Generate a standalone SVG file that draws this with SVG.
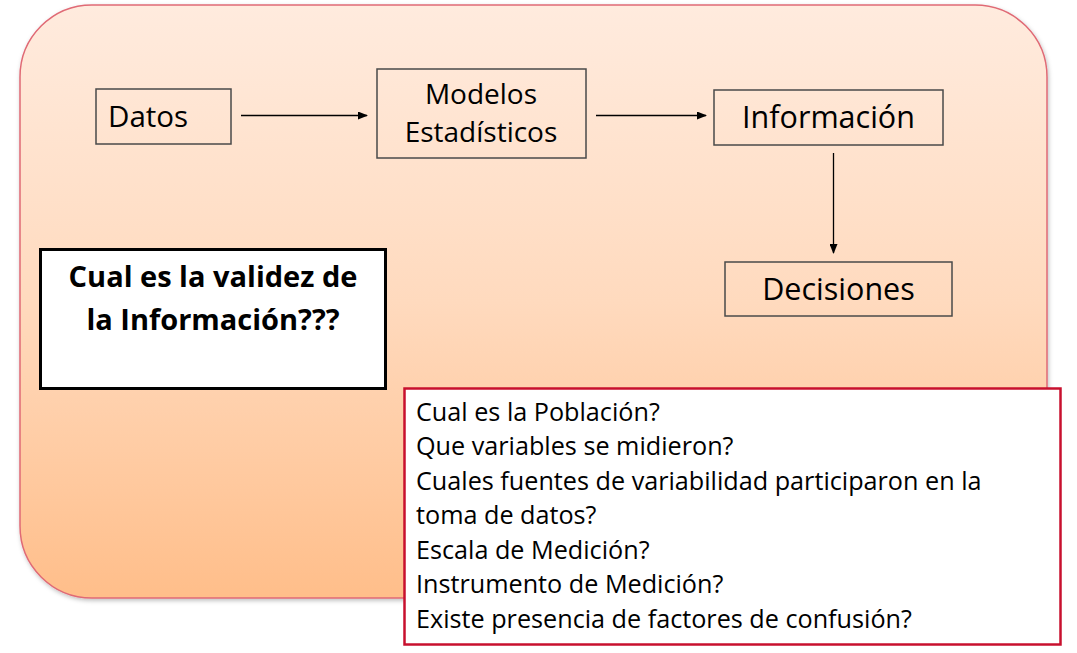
<svg xmlns="http://www.w3.org/2000/svg" width="1077" height="653" viewBox="0 0 1077 653">
<defs>
<linearGradient id="bg" x1="0" y1="0" x2="0" y2="1">
<stop offset="0" stop-color="#FFEBDE"/>
<stop offset="0.5" stop-color="#FFDABE"/>
<stop offset="1" stop-color="#FFBE8A"/>
</linearGradient>
<marker id="ah" markerWidth="10" markerHeight="8" refX="9" refY="4" orient="auto" markerUnits="userSpaceOnUse">
<path d="M0,0 L10,4 L0,8 Z" fill="#000"/>
</marker>
<filter id="sh" x="-5%" y="-5%" width="110%" height="110%">
<feDropShadow dx="1" dy="2" stdDeviation="2" flood-color="#000" flood-opacity="0.25"/>
</filter>
</defs>
<style>
.t{font-family:"Open Sans","Noto Sans","Liberation Sans",sans-serif;fill:#000}
.box{fill:none;stroke:#4a4a4a;stroke-width:1.5}
.conn{stroke:#000;stroke-width:1.3;fill:none;marker-end:url(#ah)}
</style>
<g id="background">
<rect x="20" y="5" width="1027" height="593" rx="72" ry="72" fill="url(#bg)" stroke="#E06A75" stroke-width="1.5" filter="url(#sh)"/>
</g>
<g id="datos">
<rect class="box" x="96" y="89" width="135" height="55"/>
<text class="t" x="108" y="127" font-size="29.5">Datos</text>
</g>
<g id="modelos">
<rect class="box" x="377" y="69" width="209" height="89"/>
<text class="t" x="481" y="104" font-size="28" text-anchor="middle">Modelos</text>
<text class="t" x="481" y="142" font-size="28" text-anchor="middle">Estadísticos</text>
</g>
<g id="informacion">
<rect class="box" x="714" y="90" width="229" height="55"/>
<text class="t" x="828.5" y="128" font-size="30.5" text-anchor="middle">Información</text>
</g>
<g id="decisiones">
<rect class="box" x="725" y="262" width="227" height="54"/>
<text class="t" x="838.5" y="300" font-size="30.5" text-anchor="middle">Decisiones</text>
</g>
<g id="validez">
<rect x="40.5" y="249.5" width="345" height="139" fill="#fff" stroke="#000" stroke-width="3"/>
<text class="t" x="213" y="287" font-size="29" font-weight="bold" text-anchor="middle">Cual es la validez de</text>
<text class="t" x="213" y="330" font-size="29" font-weight="bold" text-anchor="middle">la Información???</text>
</g>
<g id="preguntas">
<rect x="404.5" y="388.5" width="656" height="256" fill="#fff" stroke="#C8102E" stroke-width="2.5"/>
<g class="t" font-size="25.2">
<text x="416" y="421">Cual es la Población?</text>
<text x="416" y="455">Que variables se midieron?</text>
<text x="416" y="490">Cuales fuentes de variabilidad participaron en la</text>
<text x="416" y="524">toma de datos?</text>
<text x="416" y="559">Escala de Medición?</text>
<text x="416" y="593">Instrumento de Medición?</text>
<text x="416" y="628">Existe presencia de factores de confusión?</text>
</g>
</g>
<g id="connectors">
<line class="conn" x1="241" y1="115.5" x2="367" y2="115.5"/>
<line class="conn" x1="596" y1="115.5" x2="706" y2="115.5"/>
<line class="conn" x1="833.5" y1="153" x2="833.5" y2="253"/>
</g>
</svg>
